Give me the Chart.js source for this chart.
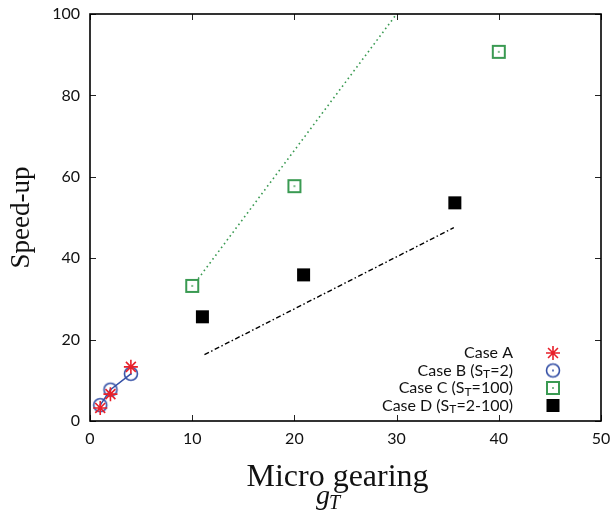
<!DOCTYPE html>
<html>
<head>
<meta charset="utf-8">
<script src="https://cdn.jsdelivr.net/npm/chart.js@4"></script>
<style>
  html, body { margin: 0; padding: 0; background: #fff; }
  #wrap { width: 615px; height: 513px; }
</style>
</head>
<body>
<div id="wrap"><canvas id="chart"></canvas></div>
<script>
// ---- data ----
const caseAX = [1, 2, 4];
const caseAY = [3.2, 6.6, 13.3];
const caseBX = [1, 2, 4];
const caseBY = [3.9, 7.7, 11.6];
const caseCX = [10, 20, 40];
const caseCY = [33.2, 57.7, 90.7];
const caseDX = [11, 20.9, 35.7];
const caseDY = [25.6, 35.9, 53.6];
const fitCX = [10.3, 30];
const fitCY = [34, 100];
const fitDX = [11.2, 35.6];
const fitDY = [16.3, 47.5];
const xTicks = [0, 10, 20, 30, 40, 50];
const yTicks = [0, 20, 40, 60, 80, 100];
const legendLabels = [
  ['Case A'],
  ['Case B (S', 'T', '=2)'],
  ['Case C (S', 'T', '=100)'],
  ['Case D (S', 'T', '=2-100)']
];

const RED = '#e8202a', BLUE = '#3550a6', GREEN = '#3a9a52', BLACK = '#000';
const SANS = "Lato, 'Open Sans', sans-serif";
const SERIF = "'Liberation Serif', 'DejaVu Serif', serif";

function pts(xs, ys) { return xs.map((x, i) => ({ x: x, y: ys[i] })); }

// hollow markers with a centre dot
function dotCircle(color) {
  const c = document.createElement('canvas');
  c.width = 18; c.height = 18;
  const g = c.getContext('2d');
  g.strokeStyle = color; g.lineWidth = 1.6;
  g.beginPath(); g.arc(9, 9, 6.5, 0, Math.PI * 2); g.stroke();
  g.fillStyle = color;
  g.beginPath(); g.arc(9, 9, 1, 0, Math.PI * 2); g.fill();
  return c;
}
function dotSquare(color) {
  const c = document.createElement('canvas');
  c.width = 16; c.height = 16;
  const g = c.getContext('2d');
  g.fillStyle = '#fff'; g.fillRect(2, 2, 12, 12);
  g.strokeStyle = color; g.lineWidth = 2;
  g.strokeRect(2, 2, 12, 12);
  g.fillStyle = color; g.fillRect(7.2, 7.2, 1.6, 1.6);
  return c;
}

// frame + inward ticks on all four sides
const frameTicks = {
  id: 'frameTicks',
  beforeDatasetsDraw(chart) {
    const { ctx, chartArea: a, scales: { x, y } } = chart;
    ctx.save();
    ctx.strokeStyle = '#222';
    ctx.lineWidth = 1;
    ctx.beginPath();
    xTicks.forEach(v => {
      const px = Math.round(x.getPixelForValue(v)) + 0.5;
      ctx.moveTo(px, a.bottom); ctx.lineTo(px, a.bottom - 6);
      ctx.moveTo(px, a.top); ctx.lineTo(px, a.top + 6);
    });
    yTicks.forEach(v => {
      const py = Math.round(y.getPixelForValue(v)) + 0.5;
      ctx.moveTo(a.left, py); ctx.lineTo(a.left + 6, py);
      ctx.moveTo(a.right, py); ctx.lineTo(a.right - 6, py);
    });
    ctx.stroke();
    ctx.lineWidth = 1.6;
    ctx.strokeStyle = '#000';
    ctx.strokeRect(a.left, a.top, a.right - a.left, a.bottom - a.top);
    ctx.restore();
  }
};

// legend inside the plot, text right-aligned with the symbol on its right
const insideLegend = {
  id: 'insideLegend',
  afterDatasetsDraw(chart) {
    const { ctx } = chart;
    const textRight = 513, symX = 553, top = 353, step = 17.5;
    const big = '16px ' + SANS, small = '12px ' + SANS;
    ctx.save();
    ctx.textBaseline = 'middle';
    ctx.textAlign = 'left';
    legendLabels.forEach((parts, i) => {
      const yy = top + i * step;
      const widths = parts.map((p, k) => { ctx.font = k === 1 ? small : big; return ctx.measureText(p).width; });
      let xx = textRight - widths.reduce((s, w) => s + w, 0);
      ctx.fillStyle = '#111';
      parts.forEach((p, k) => {
        ctx.font = k === 1 ? small : big;
        ctx.fillText(p, xx, k === 1 ? yy + 4 : yy);
        xx += widths[k];
      });
      const ds = chart.data.datasets[i];
      ctx.strokeStyle = ds.pointBorderColor;
      ctx.fillStyle = ds.pointBackgroundColor;
      ctx.lineWidth = ds.borderWidth;
      Chart.helpers.drawPoint(ctx, {
        pointStyle: ds.pointStyle, radius: ds.pointRadius, rotation: 0, borderWidth: ds.borderWidth
      }, symX, yy);
    });
    ctx.restore();
  }
};

// italic g_T under the x-axis title
const gT = {
  id: 'gT',
  afterDraw(chart) {
    const { ctx } = chart;
    ctx.save();
    ctx.fillStyle = '#111';
    ctx.textBaseline = 'alphabetic';
    ctx.textAlign = 'left';
    ctx.font = 'italic 28px ' + SERIF;
    ctx.fillText('g', 316, 504);
    ctx.font = 'italic 20px ' + SERIF;
    ctx.fillText('T', 329, 509);
    ctx.restore();
  }
};

new Chart(document.getElementById('chart'), {
  type: 'scatter',
  data: {
    datasets: [
      { label: 'Case A', data: pts(caseAX, caseAY), pointStyle: 'star', pointRadius: 7,
        borderWidth: 1.6, pointBorderColor: RED, pointBackgroundColor: RED, borderColor: RED },
      { label: 'Case B', data: pts(caseBX, caseBY), pointStyle: dotCircle(BLUE), pointRadius: 8,
        borderWidth: 1.5, pointBorderColor: BLUE, pointBackgroundColor: BLUE, borderColor: BLUE,
        showLine: true },
      { label: 'Case C', data: pts(caseCX, caseCY), pointStyle: dotSquare(GREEN), pointRadius: 8,
        borderWidth: 2, pointBorderColor: GREEN, pointBackgroundColor: GREEN, borderColor: GREEN },
      { label: 'Case D', data: pts(caseDX, caseDY), pointStyle: 'rect', pointRadius: 9.2,
        borderWidth: 0, pointBorderColor: BLACK, pointBackgroundColor: BLACK, borderColor: BLACK },
      { label: 'fit C', data: pts(fitCX, fitCY), showLine: true, pointRadius: 0,
        borderColor: GREEN, borderWidth: 1.6, borderDash: [1.6, 3.2] },
      { label: 'fit D', data: pts(fitDX, fitDY), showLine: true, pointRadius: 0,
        borderColor: BLACK, borderWidth: 1.4, borderDash: [5, 2.5, 1.5, 2.5] }
    ]
  },
  options: {
    responsive: true, maintainAspectRatio: false, animation: false,
    layout: { padding: { top: 14, right: 14, left: 0, bottom: 0 } },
    plugins: { legend: { display: false }, tooltip: { enabled: false } },
    scales: {
      x: {
        type: 'linear', min: 0, max: 50,
        afterBuildTicks: s => { s.ticks = xTicks.map(v => ({ value: v })); },
        afterFit: s => { s.height = 92; s.paddingLeft = 0; s.paddingRight = 0; },
        grid: { display: false, drawTicks: false },
        border: { display: false },
        ticks: { color: '#111', padding: 8, font: { family: SANS, size: 16 } },
        // trailing spaces nudge the centred title slightly left, as in the reference
        title: { display: true, text: 'Micro gearing  ', color: '#111',
          font: { family: SERIF, size: 32 }, padding: { top: 0, bottom: 16 } }
      },
      y: {
        type: 'linear', min: 0, max: 100,
        afterBuildTicks: s => { s.ticks = yTicks.map(v => ({ value: v })); },
        afterFit: s => { s.width = 90; s.paddingTop = 0; s.paddingBottom = 0; },
        grid: { display: false, drawTicks: false },
        border: { display: false },
        ticks: { color: '#111', padding: 10, font: { family: SANS, size: 16 } },
        title: { display: true, text: 'Speed-up', color: '#111',
          font: { family: SERIF, size: 27 }, padding: { top: 6, bottom: 0 } }
      }
    }
  },
  plugins: [frameTicks, insideLegend, gT]
});
</script>
</body>
</html>
